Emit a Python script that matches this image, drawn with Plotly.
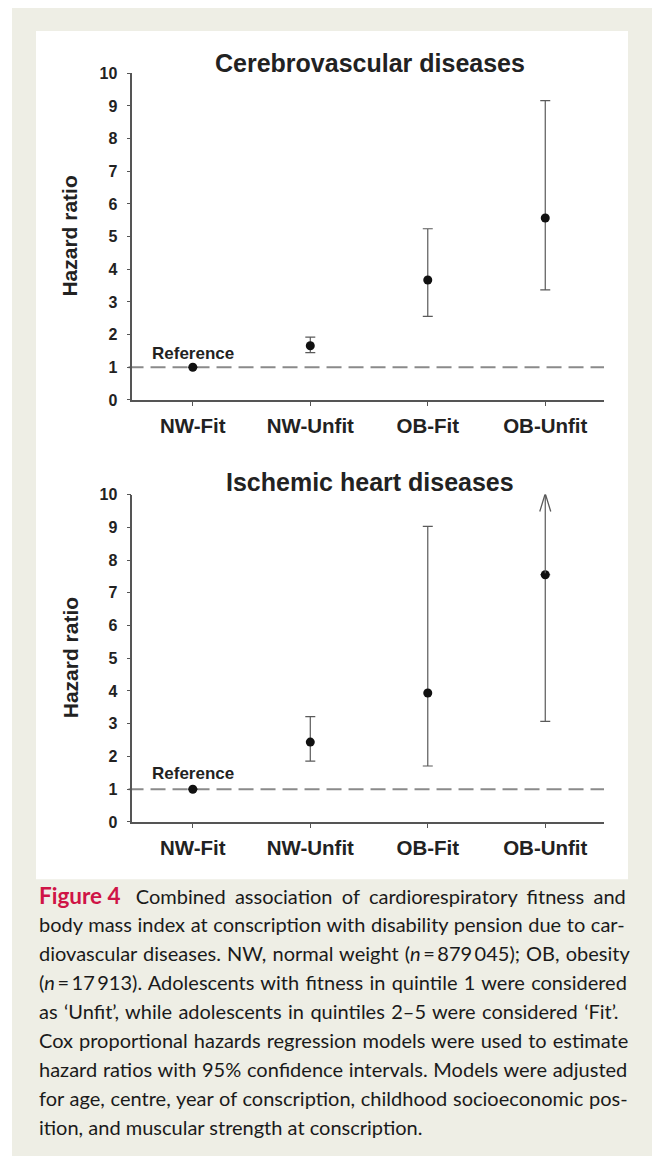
import plotly.graph_objects as go

# ---------------- data ----------------
categories = ["NW-Fit", "NW-Unfit", "OB-Fit", "OB-Unfit"]

cvd_title = "Cerebrovascular diseases"
cvd_hr = [1.0, 1.66, 3.67, 5.57]
cvd_lower = [None, 1.45, 2.56, 3.37]
cvd_upper = [None, 1.92, 5.24, 9.16]

ihd_title = "Ischemic heart diseases"
ihd_hr = [1.0, 2.44, 3.94, 7.55]
ihd_lower = [None, 1.86, 1.71, 3.07]
ihd_upper = [None, 3.22, 9.03, None]   # None upper = interval extends beyond axis (arrow)

reference_value = 1.0
y_ticks = list(range(0, 11))
y_axis_title = "Hazard ratio"
reference_label = "Reference"

caption_label = "Figure 4"
caption_lines = [
    "Combined association of cardiorespiratory fitness and",
    "body mass index at conscription with disability pension due to car-",
    "diovascular diseases. NW, normal weight (<i>n</i>\u2009=\u2009879\u2009045); OB, obesity",
    "(<i>n</i>\u2009=\u200917\u2009913). Adolescents with fitness in quintile 1 were considered",
    "as \u2018Unfit\u2019, while adolescents in quintiles 2\u20135 were considered \u2018Fit\u2019.",
    "Cox proportional hazards regression models were used to estimate",
    "hazard ratios with 95% confidence intervals. Models were adjusted",
    "for age, centre, year of conscription, childhood socioeconomic pos-",
    "ition, and muscular strength at conscription.",
]
# extra word spacing per caption line (px) to approximate the justified block
caption_word_spacing = [4.2, 0.5, 1.0, 1.2, 1.3, 0.9, 0.6, 0.6, 0.0]

# ---------------- layout constants ----------------
W, H = 654, 1165
FONT = "Liberation Sans, Arial, sans-serif"
AX_COLOR = "#555555"
BAR_COLOR = "#5a5a5a"
TXT = "#222222"


def px_x(p):
    return p / W


def Y(p):
    # vertical pixel target -> figure pixel (compensates the capture offset)
    return (p - 7.0) / 0.9863


def px_y(p):
    return min(1.0, max(0.0, 1 - Y(p) / H))


panels = [
    dict(title=cvd_title, hr=cvd_hr, lo=cvd_lower, hi=cvd_upper,
         ytop=72.3, ybot=399.3, title_y=62, ref_shift=14),
    dict(title=ihd_title, hr=ihd_hr, lo=ihd_lower, hi=ihd_upper,
         ytop=494.0, ybot=821.7, title_y=481.5, ref_shift=16),
]

fig = go.Figure()
annotations = []
shapes = [
    dict(type="rect", xref="paper", yref="paper", x0=px_x(12), x1=px_x(652),
         y0=0, y1=px_y(5), fillcolor="#eeeee5", line=dict(width=0), layer="below"),
    dict(type="rect", xref="paper", yref="paper", x0=px_x(36), x1=px_x(628),
         y0=px_y(879), y1=px_y(30), fillcolor="#ffffff", line=dict(width=0), layer="below"),
]

x_left, x_right = 132.3, 604.0

for i, p in enumerate(panels):
    n = "" if i == 0 else str(i + 1)
    xa, ya = "x" + n, "y" + n
    plus, minus = [], []
    for hr, lo, hi in zip(p["hr"], p["lo"], p["hi"]):
        if lo is None:
            plus.append(None)
            minus.append(None)
        else:
            minus.append(hr - lo)
            plus.append(hi - hr if hi is not None else 0)
    fig.add_trace(go.Scatter(
        x=categories, y=p["hr"], mode="markers", xaxis=xa, yaxis=ya,
        marker=dict(color="#111111", size=9),
        error_y=dict(type="data", symmetric=False, array=plus, arrayminus=minus,
                     color=BAR_COLOR, thickness=1.2, width=5),
        showlegend=False, hoverinfo="skip",
    ))
    # open-ended intervals: line to top of axis plus open chevron head
    for j, (hr, hi, lo) in enumerate(zip(p["hr"], p["hi"], p["lo"])):
        if lo is not None and hi is None:
            annotations.append(dict(
                x=j, y=y_ticks[-1], ax=j, ay=hr, xref=xa, yref=ya,
                axref=xa, ayref=ya, text="", showarrow=True, arrowhead=0,
                arrowwidth=1.2, arrowcolor=BAR_COLOR, standoff=0, startstandoff=0,
            ))
            shapes.append(dict(
                type="path", xref=xa, yref=ya, xsizemode="pixel", ysizemode="pixel",
                xanchor=j, yanchor=y_ticks[-1],
                path="M-5.5,-17 L0,1 L5.5,-17",
                line=dict(color=BAR_COLOR, width=1.3),
            ))
    # reference dashed line
    shapes.append(dict(type="line", xref=xa + " domain", yref=ya, x0=-0.008, x1=1,
                       y0=reference_value, y1=reference_value,
                       line=dict(color="#8a8a8a", width=2, dash="15px,7px"), layer="below"))
    annotations.append(dict(x=categories[0], y=reference_value, xref=xa, yref=ya,
                            text=reference_label, showarrow=False, yshift=p["ref_shift"],
                            yanchor="middle",
                            font=dict(family=FONT, size=17, color=TXT, weight="bold")))
    annotations.append(dict(x=px_x(370), y=px_y(p["title_y"]), xref="paper", yref="paper",
                            text=p["title"], showarrow=False, yanchor="middle",
                            font=dict(family=FONT, size=25, color=TXT, weight="bold")))
    annotations.append(dict(x=px_x(70), y=px_y((p["ytop"] + p["ybot"]) / 2),
                            xref="paper", yref="paper", text=y_axis_title, textangle=-90,
                            showarrow=False, xanchor="center", yanchor="middle",
                            font=dict(family=FONT, size=21, color=TXT, weight="bold")))

    dom_y = [px_y(p["ybot"]), px_y(p["ytop"])]
    fig.update_layout(**{
        "xaxis" + n: dict(domain=[px_x(x_left), px_x(x_right)], anchor=ya, type="category",
                          categoryorder="array", categoryarray=categories,
                          range=[-0.515, 3.5], showline=True, linecolor=AX_COLOR,
                          linewidth=1.5, ticks="outside", ticklen=4, tickcolor=AX_COLOR,
                          tickwidth=1.2, showgrid=False, zeroline=False,
                          ticklabelstandoff=3,
                          tickfont=dict(family=FONT, size=20.5, color=TXT, weight="bold")),
        "yaxis" + n: dict(domain=dom_y, anchor=xa, range=[0, 10], tickvals=y_ticks,
                          showline=True, linecolor=AX_COLOR, linewidth=1.5,
                          ticks="outside", ticklen=4, tickcolor=AX_COLOR, tickwidth=1.2,
                          showgrid=False, zeroline=False, ticklabelstandoff=6,
                          tickfont=dict(family=FONT, size=16, color=TXT, weight="bold")),
    })

# caption
for k, (line, ws) in enumerate(zip(caption_lines, caption_word_spacing)):
    body = f"<span style='word-spacing:{ws}px'>{line}</span>"
    if k == 0:
        body = (f"<b><span style='color:#cf1446;font-size:22.5px'>{caption_label}</span></b>"
                f"\u2002 " + body)
    annotations.append(dict(x=px_x(37), y=px_y(895 + 29.0 * k), xref="paper", yref="paper",
                            text=body, showarrow=False, xanchor="left", yanchor="middle",
                            align="left",
                            font=dict(family="Lato, sans-serif", size=20, color="#1a1a1a")))

fig.update_layout(
    width=W, height=H, autosize=False,
    margin=dict(l=0, r=0, t=0, b=0),
    paper_bgcolor="#ffffff", plot_bgcolor="rgba(0,0,0,0)",
    shapes=shapes, annotations=annotations,
)

RESET_CSS = ("var s=document.createElement('style');"
             "s.textContent='html,body{margin:0!important;padding:0!important;"
             "overflow:hidden!important}';"
             "document.head.appendChild(s);")

fig.write_html("out.html", config={"displayModeBar": False}, post_script=RESET_CSS)
